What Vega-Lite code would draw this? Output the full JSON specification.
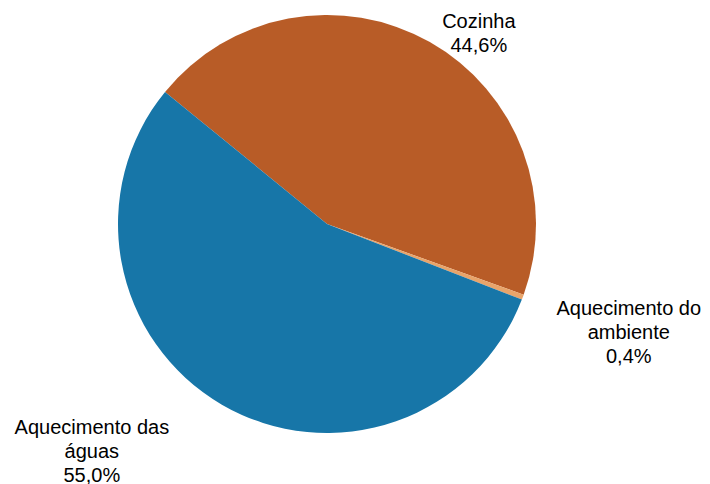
{
  "$schema": "https://vega.github.io/schema/vega-lite/v6.json",
  "width": 654,
  "height": 448,
  "autosize": {"type": "none"},
  "padding": {"left": 0, "top": 0, "right": 56, "bottom": 36},
  "background": "white",
  "view": {"stroke": null},
  "config": {"font": "Liberation Sans"},
  "data": {
    "values": [
      {"categoria": "Cozinha", "valor": 44.6, "ordem": 1, "rotulo": "Cozinha\n44,6%"},
      {"categoria": "Aquecimento do ambiente", "valor": 0.4, "ordem": 2, "rotulo": "Aquecimento do\nambiente\n0,4%"},
      {"categoria": "Aquecimento das águas", "valor": 55.0, "ordem": 3, "rotulo": "Aquecimento das\náguas\n55,0%"}
    ]
  },
  "encoding": {
    "theta": {"field": "valor", "type": "quantitative", "stack": true, "scale": {"range": [5.3966, 11.6798]}},
    "order": {"field": "ordem", "type": "quantitative"}
  },
  "layer": [
    {
      "mark": {"type": "arc", "outerRadius": 209, "stroke": null},
      "encoding": {
        "color": {
          "field": "categoria",
          "type": "nominal",
          "legend": null,
          "scale": {
            "domain": ["Cozinha", "Aquecimento do ambiente", "Aquecimento das águas"],
            "range": ["#B85C27", "#E8A46A", "#1776A8"]
          }
        }
      }
    },
    {
      "mark": {"type": "text", "radius": 209, "dx": 49, "dy": -20, "fontSize": 20, "lineHeight": 24, "lineBreak": "\n", "align": "center", "baseline": "middle", "color": "#000000"},
      "encoding": {
        "text": {"condition": {"test": "datum.categoria === 'Cozinha'", "field": "rotulo"}, "value": ""}
      }
    },
    {
      "mark": {"type": "text", "radius": 209, "dx": 106, "dy": 12, "fontSize": 20, "lineHeight": 24, "lineBreak": "\n", "align": "center", "baseline": "middle", "color": "#000000"},
      "encoding": {
        "text": {"condition": {"test": "datum.categoria === 'Aquecimento do ambiente'", "field": "rotulo"}, "value": ""}
      }
    },
    {
      "mark": {"type": "text", "radius": 209, "dx": -130, "dy": 23, "fontSize": 20, "lineHeight": 24, "lineBreak": "\n", "align": "center", "baseline": "middle", "color": "#000000"},
      "encoding": {
        "text": {"condition": {"test": "datum.categoria === 'Aquecimento das águas'", "field": "rotulo"}, "value": ""}
      }
    }
  ]
}
